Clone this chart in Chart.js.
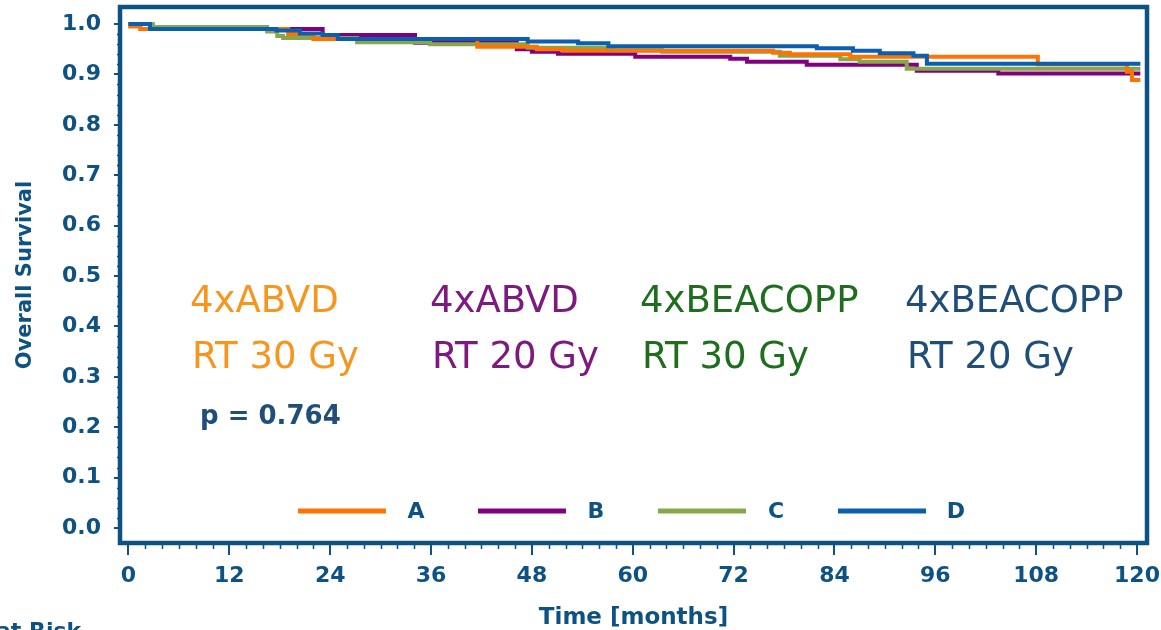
<!DOCTYPE html>
<html lang="en">
<head>
<meta charset="UTF-8">
<title>Overall Survival</title>
<script src="https://cdn.jsdelivr.net/npm/chart.js"></script>
<style>
  body { margin: 0; background: #fff; }
  canvas { display: block; }
</style>
</head>
<body>
<canvas id="osChart" width="1161" height="630"></canvas>
<script>
// Kaplan-Meier curves (months / survival)
const seriesNames = ['A', 'B', 'C', 'D'];
const seriesColors = ['#ff7300', '#800080', '#86a74a', '#0a5fb0'];

const timeA = [0, 0.2, 1.4, 19.0, 22.0, 41.5, 48.6, 51.7, 76.7, 78.7, 85.9, 108.2, 118.8, 119.4, 120.4];
const survA = [1.0, 0.995, 0.99, 0.98, 0.97, 0.955, 0.95, 0.947, 0.943, 0.94, 0.935, 0.92, 0.905, 0.889, 0.889];

const timeB = [0, 2.6, 23.1, 34.1, 46.2, 48.0, 51.1, 60.3, 71.6, 73.6, 80.7, 93.8, 103.5, 120.4];
const survB = [1.0, 0.99, 0.978, 0.963, 0.95, 0.945, 0.941, 0.935, 0.931, 0.925, 0.919, 0.907, 0.902, 0.902];

const timeC = [0, 2.9, 16.5, 17.7, 18.4, 27.2, 35.9, 47.5, 57.7, 63.5, 77.5, 84.7, 87.0, 92.6, 120.4];
const survC = [1.0, 0.994, 0.985, 0.976, 0.972, 0.964, 0.96, 0.953, 0.948, 0.945, 0.937, 0.93, 0.925, 0.911, 0.911];

const timeD = [0, 2.56, 17.6, 20.4, 23.1, 24.9, 47.5, 53.5, 57.1, 81.9, 86.2, 89.4, 93.4, 95.0, 120.4];
const survD = [1.0, 0.99, 0.987, 0.981, 0.978, 0.97, 0.965, 0.962, 0.956, 0.952, 0.947, 0.942, 0.937, 0.921, 0.921];

const xTicks = [0, 12, 24, 36, 48, 60, 72, 84, 96, 108, 120];
const yTicks = [0.0, 0.1, 0.2, 0.3, 0.4, 0.5, 0.6, 0.7, 0.8, 0.9, 1.0];

// arm descriptions written inside the plot
const armLine1 = ['4xABVD', '4xABVD', '4xBEACOPP', '4xBEACOPP'];
const armLine2 = ['RT 30 Gy', 'RT 20 Gy', 'RT 30 Gy', 'RT 20 Gy'];
const armColors = ['#f7961e', '#7d1a80', '#1e6e1e', '#1f4e79'];
const pValueText = 'p = 0.764';

const axisColor = '#0d5282';

const toPoints = (t, s) => t.map((v, i) => ({ x: v, y: s[i] }));
const allTimes = [timeA, timeB, timeC, timeD];
const allSurv = [survA, survB, survC, survD];
const drawOrder = [1, 3, 2, 0]; // D on top

// 'before' = stay level until the next time, then drop (KM step)
const datasets = seriesNames.map((name, i) => ({
  label: name,
  data: toPoints(allTimes[i], allSurv[i]),
  borderColor: seriesColors[i],
  backgroundColor: seriesColors[i],
  borderWidth: 4,
  stepped: 'before',
  pointRadius: 0,
  fill: false,
  order: drawOrder[i]
}));

// no automatic padding for overflowing tick labels
const noPad = s => { s.paddingTop = 0; s.paddingBottom = 0; s.paddingLeft = 0; s.paddingRight = 0; };

// frame, minor ticks, texts, legend
const decorations = {
  id: 'decorations',
  beforeDatasetsDraw(chart) {
    const { ctx, chartArea: a, scales } = chart;
    ctx.save();
    ctx.strokeStyle = axisColor;
    ctx.lineWidth = 1.5;
    // minor ticks
    ctx.beginPath();
    for (let m = 0; m <= 120; m += 2) {
      if (m % 12 === 0) continue;
      const x = Math.round(scales.x.getPixelForValue(m)) + 0.5;
      ctx.moveTo(x, a.bottom);
      ctx.lineTo(x, a.bottom + 6);
    }
    for (let k = 0; k <= 50; k++) {
      if (k % 5 === 0) continue;
      const y = Math.round(scales.y.getPixelForValue(k * 0.02)) + 0.5;
      ctx.moveTo(a.left, y);
      ctx.lineTo(a.left - 3, y);
    }
    ctx.stroke();
    ctx.restore();
  },
  afterDraw(chart) {
    const { ctx, chartArea: a } = chart;
    ctx.save();
    // plot frame
    ctx.strokeStyle = axisColor;
    ctx.lineWidth = 4.5;
    ctx.strokeRect(a.left, a.top, a.right - a.left, a.bottom - a.top);

    // arm labels
    const armX = [190, 430, 640, 905];
    ctx.font = '37px "DejaVu Sans"';
    ctx.textBaseline = 'alphabetic';
    ctx.textAlign = 'left';
    armLine1.forEach((t, i) => {
      ctx.fillStyle = armColors[i];
      ctx.fillText(t, armX[i], 312);
      ctx.fillText(armLine2[i], armX[i] + 2, 368);
    });
    ctx.font = 'bold 26px "DejaVu Sans"';
    ctx.fillStyle = '#1f4e79';
    ctx.fillText(pValueText, 200, 424);

    // legend
    ctx.lineWidth = 5;
    ctx.font = 'bold 22px "DejaVu Sans"';
    ctx.textBaseline = 'middle';
    ctx.textAlign = 'center';
    seriesNames.forEach((n, i) => {
      const x0 = 298 + i * 180;
      ctx.strokeStyle = seriesColors[i];
      ctx.beginPath();
      ctx.moveTo(x0, 511);
      ctx.lineTo(x0 + 88, 511);
      ctx.stroke();
      ctx.fillStyle = axisColor;
      ctx.fillText(n, x0 + 118, 512);
    });

    // cut-off risk table heading
    ctx.textAlign = 'left';
    ctx.textBaseline = 'alphabetic';
    ctx.font = 'bold 22px "DejaVu Sans"';
    ctx.fillStyle = axisColor;
    ctx.fillText('at Risk', -4, 638);
    ctx.restore();
  }
};

const tickFont = { family: '"DejaVu Sans"', size: 22, weight: 'bold' };

new Chart(document.getElementById('osChart').getContext('2d'), {
  type: 'line',
  data: { datasets },
  options: {
    responsive: false,
    animation: false,
    layout: { padding: { left: 0, top: 7, right: 14, bottom: 0 } },
    plugins: { legend: { display: false }, tooltip: { enabled: false } },
    scales: {
      x: {
        type: 'linear',
        min: -1.01,
        max: 121.19,
        afterBuildTicks: s => { s.ticks = xTicks.map(v => ({ value: v })); },
        afterFit: s => { s.height = 87; noPad(s); },
        border: { display: false },
        grid: { drawOnChartArea: false, tickLength: 12, color: axisColor, lineWidth: 2 },
        ticks: { font: tickFont, color: axisColor, padding: 8, maxRotation: 0, autoSkip: false },
        title: { display: true, text: 'Time [months]', color: axisColor,
                 font: { family: '"DejaVu Sans"', size: 23, weight: 'bold' }, padding: { top: 0, bottom: -2 } }
      },
      y: {
        type: 'linear',
        min: -0.0298,
        max: 1.0337,
        afterBuildTicks: s => { s.ticks = yTicks.map(v => ({ value: v })); },
        afterFit: s => { s.width = 120; noPad(s); },
        border: { display: false },
        grid: { drawOnChartArea: false, tickLength: 6, color: axisColor, lineWidth: 2 },
        ticks: { font: tickFont, color: axisColor, padding: 13, callback: v => v.toFixed(1) },
        title: { display: true, text: 'Overall Survival', color: axisColor,
                 font: { family: '"DejaVu Sans"', size: 21, weight: 'bold' }, padding: { top: 13, bottom: 0 } }
      }
    }
  },
  plugins: [decorations]
});
</script>
</body>
</html>
